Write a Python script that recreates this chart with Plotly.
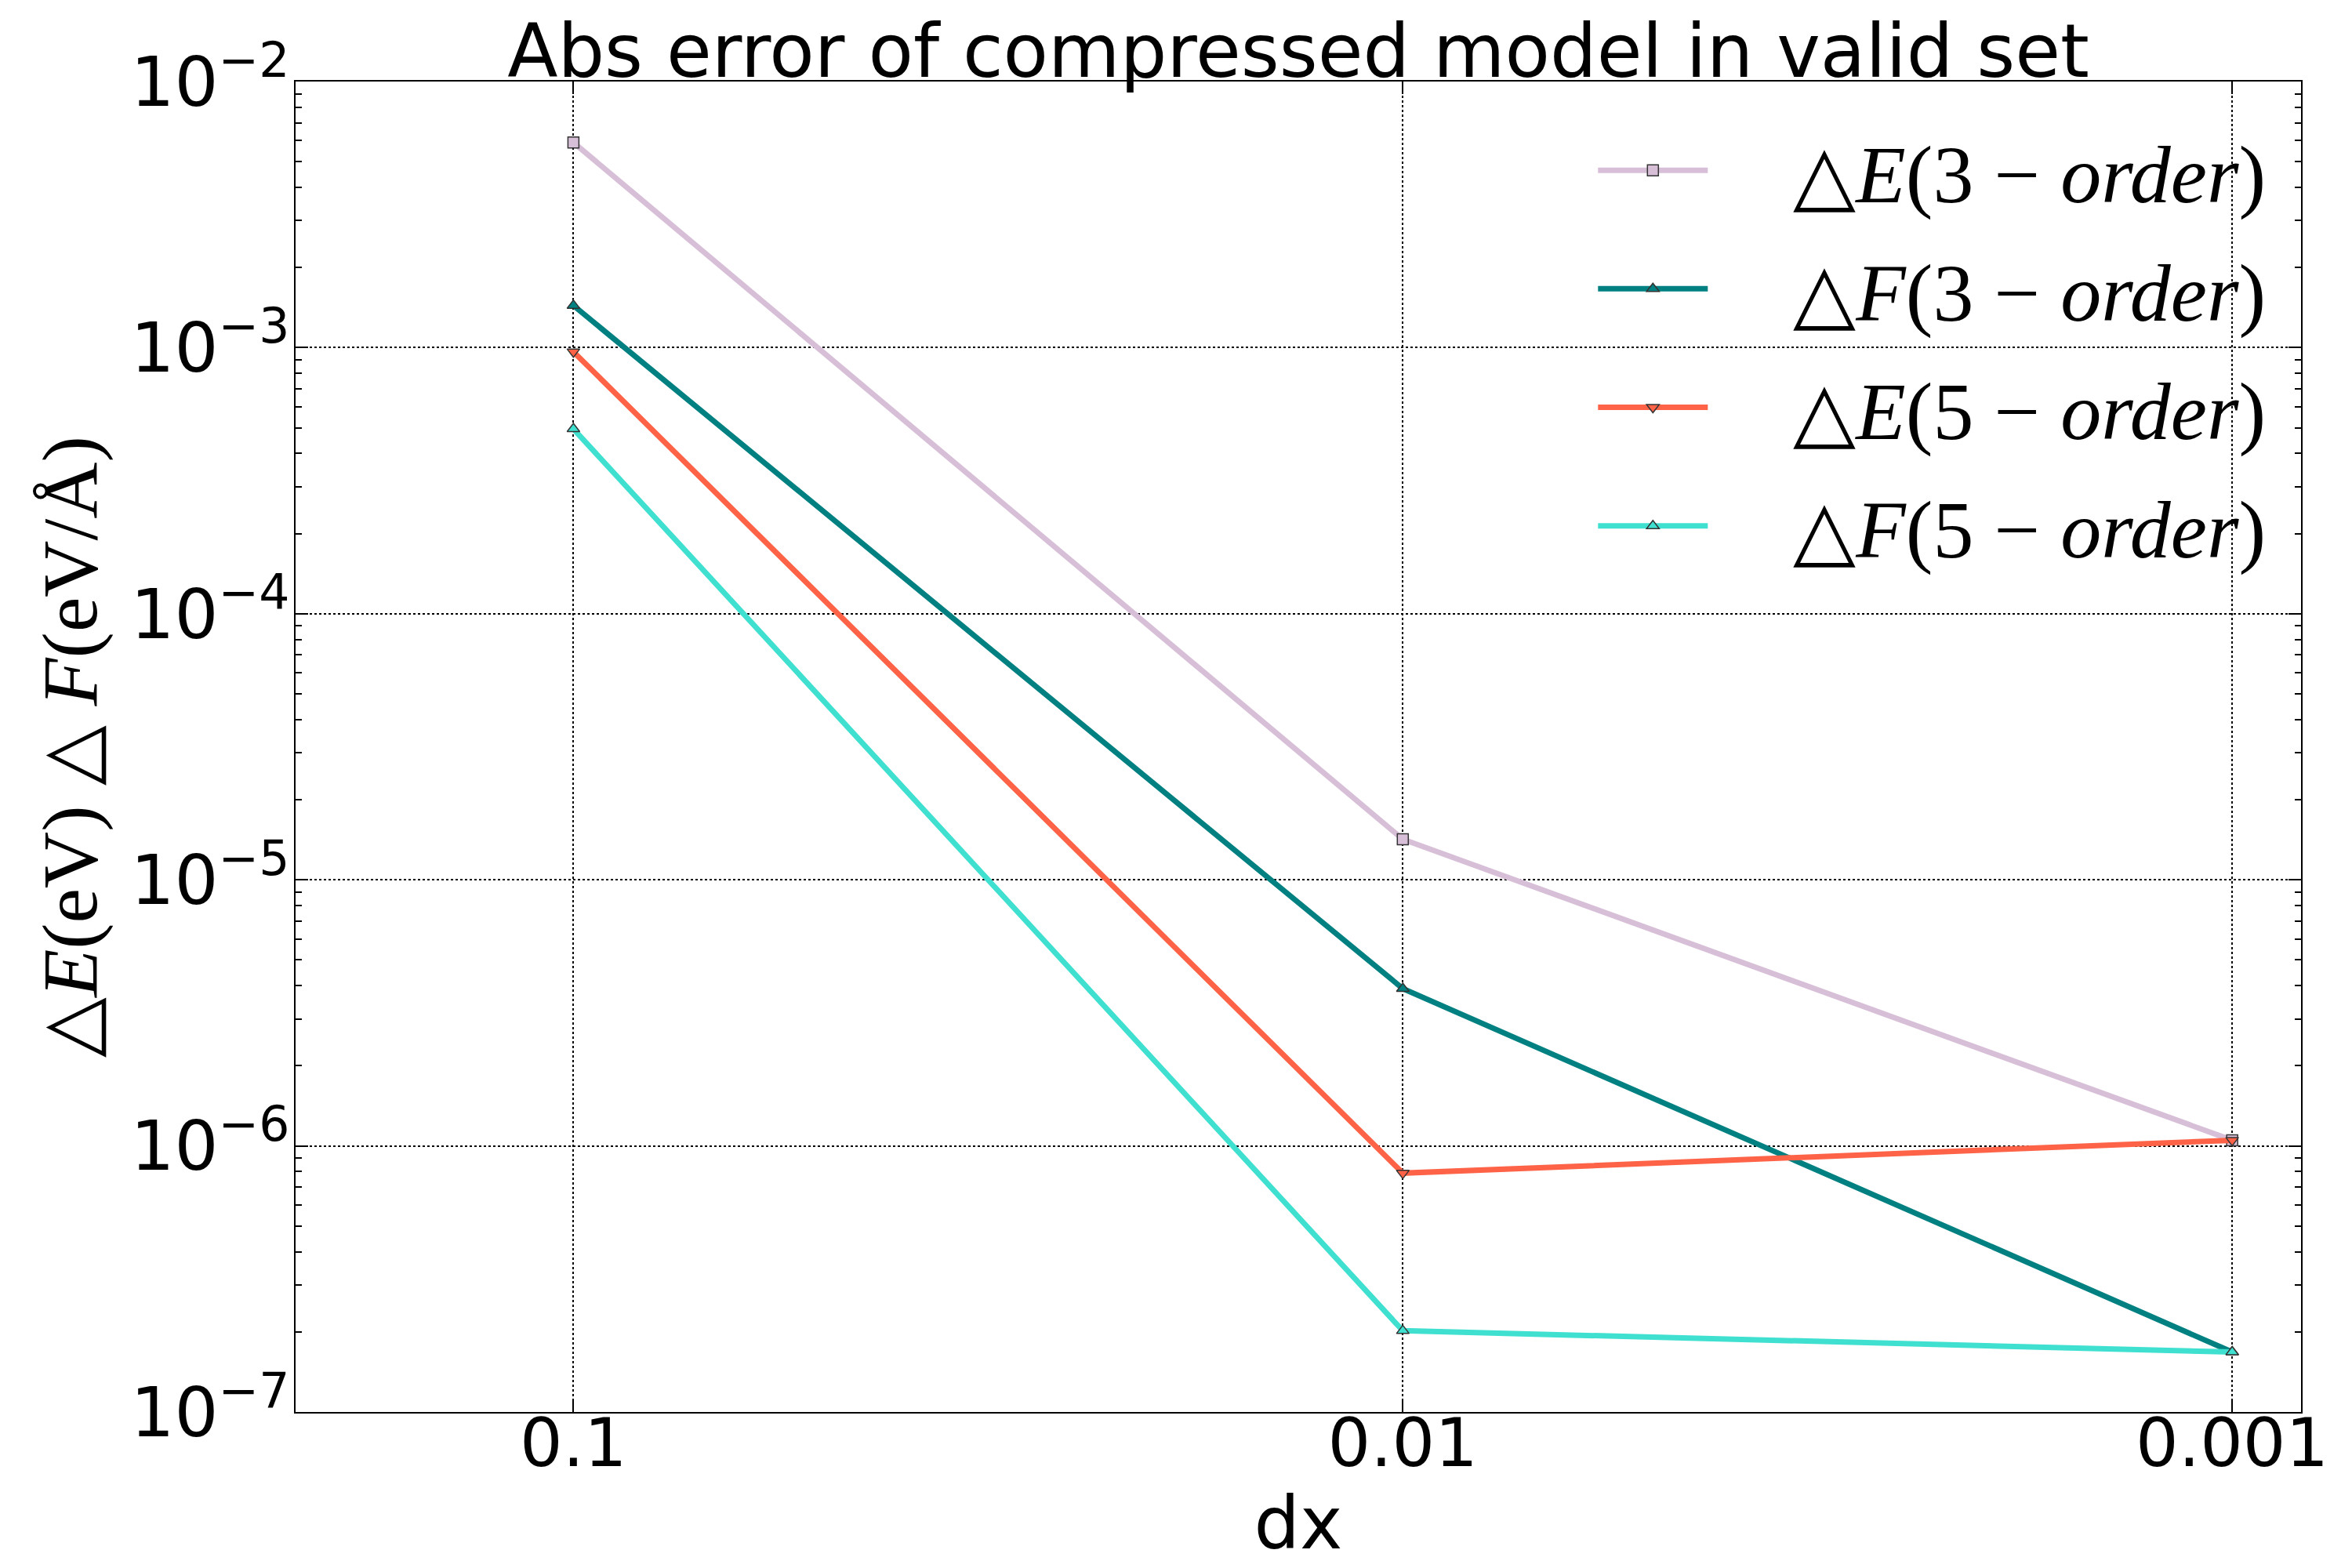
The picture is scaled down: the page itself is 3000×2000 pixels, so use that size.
import plotly.graph_objects as go

dx = [0.1, 0.01, 0.001]
x_ticktext = ["0.1", "0.01", "0.001"]

dE_3 = [5.9e-3, 1.42e-5, 1.05e-6]
dF_3 = [1.44e-3, 3.9e-6, 1.68e-7]
dE_5 = [9.65e-4, 7.9e-7, 1.05e-6]
dF_5 = [4.95e-4, 2.02e-7, 1.68e-7]

names = [
    "△<i>E</i>(3 − <i>order</i>)",
    "△<i>F</i>(3 − <i>order</i>)",
    "△<i>E</i>(5 − <i>order</i>)",
    "△<i>F</i>(5 − <i>order</i>)",
]
series = [dE_3, dF_3, dE_5, dF_5]
colors = ["#D8BFD8", "#008080", "#FF6347", "#40E0D0"]
symbols = ["square", "triangle-up", "triangle-down", "triangle-up"]

y_tickvals = [1e-7, 1e-6, 1e-5, 1e-4, 1e-3, 1e-2]
y_ticktext = ["10<sup>−7</sup>", "10<sup>−6</sup>", "10<sup>−5</sup>",
              "10<sup>−4</sup>", "10<sup>−3</sup>", "10<sup>−2</sup>"]
minor_vals = [k * 10.0 ** e for e in range(-7, -2) for k in range(2, 10)]

pad = "\u00a0" * 4

fig = go.Figure()
for i, (nm, ys, c, s) in enumerate(zip(names, series, colors, symbols)):
    fig.add_trace(go.Scatter(
        x=dx, y=ys, name=pad + nm, mode="lines+markers",
        line=dict(color=c, width=7),
        marker=dict(symbol=s, size=14, color=c, line=dict(color="#333333", width=1.5)),
        legendgroup=str(i),
    ))

fig.update_layout(
    width=3000, height=2000,
    plot_bgcolor="white", paper_bgcolor="white",
    margin=dict(l=369, r=73, t=96, b=207),
    title=dict(text="Abs error of compressed model in valid set",
               font=dict(family="DejaVu Sans", size=94, color="black"),
               x=0.5, xref="paper", xanchor="center",
               y=1, yref="paper", yanchor="bottom", pad=dict(b=6)),
    legend=dict(x=0.6475, y=0.977, xanchor="left", yanchor="top",
                font=dict(family="Liberation Serif", size=104, color="black"),
                bgcolor="rgba(0,0,0,0)", itemwidth=140, tracegroupgap=13),
    showlegend=True,
)

fig.update_xaxes(
    type="log", range=[-0.665, -3.083],
    tickvals=dx, ticktext=x_ticktext,
    tickfont=dict(family="DejaVu Sans", size=86, color="black"),
    ticklabelstandoff=-36,
    title=dict(text="dx", font=dict(family="DejaVu Sans", size=92, color="black"), standoff=0),
    showline=True, linecolor="black", linewidth=2, mirror="allticks",
    ticks="inside", ticklen=16, tickwidth=2, tickcolor="black",
    showgrid=True, gridcolor="black", gridwidth=2, griddash="dot",
    zeroline=False,
)
fig.update_yaxes(
    type="log", range=[-7, -2],
    tickvals=y_tickvals, ticktext=y_ticktext,
    tickfont=dict(family="DejaVu Sans", size=88, color="black"),
    ticklabelstandoff=-12,
    title=dict(text="△<i>E</i>(eV) △ <i>F</i>(eV/Å)",
               font=dict(family="Liberation Serif", size=100, color="black"), standoff=10),
    showline=True, linecolor="black", linewidth=2, mirror="allticks",
    ticks="inside", ticklen=16, tickwidth=2, tickcolor="black",
    minor=dict(tickvals=minor_vals, ticks="inside", ticklen=8, tickwidth=1.5,
               tickcolor="black", showgrid=False),
    showgrid=True, gridcolor="black", gridwidth=2, griddash="dot",
    zeroline=False,
)

fig.write_html("out.html")
